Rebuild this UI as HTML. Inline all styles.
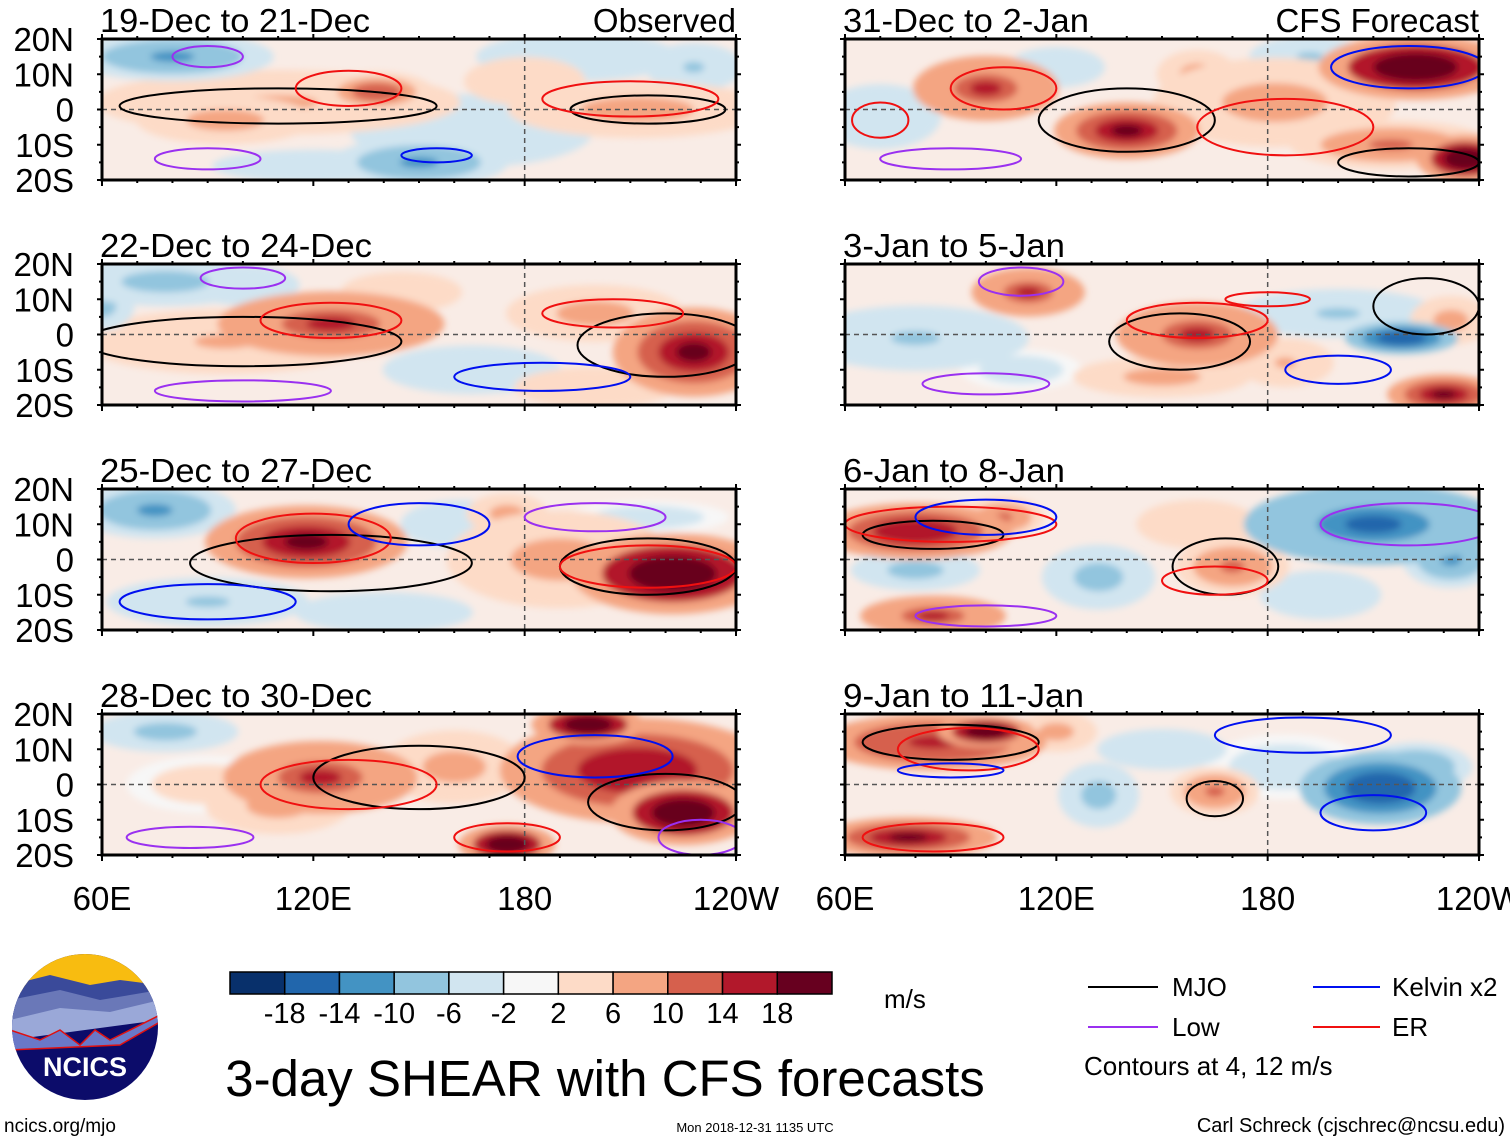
<!DOCTYPE html>
<html><head><meta charset="utf-8"><style>
body{margin:0;background:#fff;font-family:"Liberation Sans",sans-serif;}
svg text{font-family:"Liberation Sans",sans-serif;}
</style></head><body>
<svg id="c" width="1510" height="1142" viewBox="0 0 1510 1142" xmlns="http://www.w3.org/2000/svg">
<defs>
<filter id="bl" x="-50%" y="-50%" width="200%" height="200%"><feGaussianBlur stdDeviation="3.5"/></filter>
<clipPath id="lg"><circle cx="85" cy="1027" r="73"/></clipPath>
</defs>
<g id="panels"></g>
<g clip-path="url(#lg)">
<rect x="10" y="952" width="150" height="150" fill="#0c0c6a"/>
<rect x="10" y="952" width="150" height="40" fill="#f8bc10"/>
<path d="M10 985 L50 975 L90 985 L120 980 L160 985 L160 1020 L10 1030Z" fill="#3a4a9a"/>
<path d="M10 1000 L60 990 L100 1000 L160 990 L160 1020 L10 1030Z" fill="#6a78b8"/>
<path d="M10 1020 L60 1008 L110 1012 L160 1000 L160 1020 L10 1040Z" fill="#9aa8d8"/>
<path d="M10 1030 L40 1040 L60 1030 L80 1045 L95 1030 L110 1040 L120 1035 L160 1015 L160 1022 L120 1045 L10 1050Z" fill="#6a78c8" stroke="#e01010" stroke-width="1.5"/>
</g>
<text x="85" y="1076" text-anchor="middle" font-size="27" font-weight="bold" fill="#fff">NCICS</text>
<text x="4" y="1132" font-size="19">ncics.org/mjo</text>
<g id="cbar"></g>
<text x="884" y="1008" font-size="26">m/s</text>
<text x="605" y="1096" text-anchor="middle" font-size="51">3-day SHEAR with CFS forecasts</text>
<text x="755" y="1132" text-anchor="middle" font-size="13">Mon 2018-12-31 1135 UTC</text>
<text x="1505" y="1132" text-anchor="end" font-size="20">Carl Schreck (cjschrec@ncsu.edu)</text>
<g font-size="26">
<line x1="1088" y1="987" x2="1158" y2="987" stroke="#000" stroke-width="2"/><text x="1172" y="996">MJO</text>
<line x1="1088" y1="1027" x2="1158" y2="1027" stroke="#9a30f0" stroke-width="2"/><text x="1172" y="1036">Low</text>
<line x1="1313" y1="987" x2="1380" y2="987" stroke="#0010f0" stroke-width="2"/><text x="1392" y="996">Kelvin x2</text>
<line x1="1313" y1="1027" x2="1380" y2="1027" stroke="#f01010" stroke-width="2"/><text x="1392" y="1036">ER</text>
<text x="1084" y="1075" font-size="26">Contours at 4, 12 m/s</text>
</g>
</svg>
<script>
const panelTitles=["19-Dec to 21-Dec","22-Dec to 24-Dec","25-Dec to 27-Dec","28-Dec to 30-Dec","31-Dec to 2-Jan","3-Jan to 5-Jan","6-Jan to 8-Jan","9-Jan to 11-Jan"];
const latTicks=["20N","10N","0","10S","20S"];
const lonTicks=["60E","120E","180","120W"];
const binEdges=[-18,-14,-10,-6,-2,2,6,10,14,18];
const binColors=["#08306b","#2166ac","#4393c3","#92c5de","#d1e5f0","#f7f7f7","#fddbc7","#f4a582","#d6604d","#b2182b","#67001f"];
// blobs: [lon, lat, rlon, rlat, value]
const blobs0=[[80,15,25,6,-9],[110,2,45,8,5],[138,5,14,5,10],[95,-3,22,6,6],[212,0,32,7,7],[165,-6,30,9,-4],[150,-15,22,6,-8],[120,-16,25,4,-4],[195,15,25,6,-4],[180,8,15,6,4],[228,12,12,6,-5]];
const blobs1=[[78,15,25,6,-7],[125,3,28,8,11],[228,-5,20,11,15],[200,6,22,7,6],[95,-2,35,8,5],[165,-10,22,6,-4],[100,14,14,5,-5],[145,12,15,5,4],[60,8,8,6,-6],[200,-15,20,5,4]];
const blobs2=[[75,14,20,7,-9],[118,5,25,9,14],[106,8,12,5,10],[222,-4,25,10,18],[162,10,15,6,-4],[190,0,28,12,7],[90,-12,25,6,-5],[140,-15,22,5,-4],[175,13,10,5,6],[215,12,20,4,-3]];
const blobs3=[[212,4,34,13,13],[225,-8,18,8,18],[198,17,14,5,18],[175,-17,12,5,18],[122,2,24,9,11],[110,-6,18,7,7],[160,5,18,9,6],[78,15,18,5,-7],[90,0,20,7,3]];
const blobs4=[[222,12,24,8,18],[140,-6,18,7,14],[100,6,18,8,11],[182,2,30,11,7],[236,-14,12,6,18],[192,15,15,5,-5],[70,-2,15,8,-4],[120,12,12,5,-4],[215,-10,25,6,8],[160,10,10,6,6]];
const blobs5=[[160,0,20,8,11],[218,-1,14,4,-13],[200,6,25,6,-5],[230,-17,14,5,15],[80,-1,28,8,-5],[112,12,14,6,11],[232,4,10,6,7],[150,-12,22,5,6],[110,-10,15,5,-3],[185,-8,12,6,5]];
const blobs6=[[210,10,32,10,-11],[232,0,12,7,-9],[80,8,24,7,13],[170,-2,14,7,9],[132,-5,14,8,-7],[80,-3,16,5,-6],[85,-16,18,5,11],[195,-10,15,6,-4],[105,12,10,5,8],[160,10,15,6,4]];
const blobs7=[[212,-1,20,9,-13],[222,5,14,6,-9],[85,12,28,7,12],[100,15,12,4,17],[78,-15,22,5,14],[165,-2,11,6,9],[132,-3,10,8,-7],[150,10,16,5,-4],[185,5,20,8,-3],[120,15,10,5,6]];
const allBlobs=[blobs0,blobs1,blobs2,blobs3,blobs4,blobs5,blobs6,blobs7];
// contour ellipses: [lon, lat, rlon, rlat, type]
const cont0=[[110,1,45,5,"mjo"],[215,0,22,4,"mjo"],[130,6,15,5,"er"],[210,3,25,5,"er"],[90,-14,15,3,"low"],[155,-13,10,2,"kel"],[90,15,10,3,"low"]];
const cont1=[[100,-2,45,7,"mjo"],[220,-3,25,9,"mjo"],[125,4,20,5,"er"],[205,6,20,4,"er"],[100,16,12,3,"low"],[185,-12,25,4,"kel"],[100,-16,25,3,"low"]];
const cont2=[[125,-1,40,8,"mjo"],[215,-2,25,8,"mjo"],[120,6,22,7,"er"],[215,-2,25,6,"er"],[90,-12,25,5,"kel"],[150,10,20,6,"kel"],[200,12,20,4,"low"]];
const cont3=[[150,2,30,9,"mjo"],[220,-5,22,8,"mjo"],[130,0,25,7,"er"],[200,8,22,6,"kel"],[85,-15,18,3,"low"],[230,-15,12,5,"low"],[175,-15,15,4,"er"]];
const cont4=[[140,-3,25,9,"mjo"],[220,12,22,6,"kel"],[105,6,15,6,"er"],[185,-5,25,8,"er"],[90,-14,20,3,"low"],[70,-3,8,5,"er"],[220,-15,20,4,"mjo"]];
const cont5=[[155,-2,20,8,"mjo"],[225,8,15,8,"mjo"],[160,4,20,5,"er"],[180,10,12,2,"er"],[110,15,12,4,"low"],[100,-14,18,3,"low"],[200,-10,15,4,"kel"]];
const cont6=[[168,-2,15,8,"mjo"],[85,7,20,4,"mjo"],[90,10,30,5,"er"],[165,-6,15,4,"er"],[220,10,25,6,"low"],[100,-16,20,3,"low"],[100,12,20,5,"kel"]];
const cont7=[[165,-4,8,5,"mjo"],[90,12,25,5,"mjo"],[95,10,20,6,"er"],[85,-15,20,4,"er"],[190,14,25,5,"kel"],[210,-8,15,5,"kel"],[90,4,15,2,"kel"]];
const allConts=[cont0,cont1,cont2,cont3,cont4,cont5,cont6,cont7];

const NS="http://www.w3.org/2000/svg";
const root=document.getElementById('panels');
const W=634,H=141;
const lineColor={mjo:"#000",er:"#f01010",kel:"#0010f0",low:"#9a30f0"};
function colorFor(v){let i=0;while(i<binEdges.length&&v>binEdges[i])i++;return binColors[i];}
function mk(tag,attrs,parent){const e=document.createElementNS(NS,tag);for(const k in attrs)e.setAttribute(k,attrs[k]);parent.appendChild(e);return e;}
for(let p=0;p<8;p++){
  const col=p<4?0:1,row=p%4;
  const x0=col?845:102,y0=39+row*225;
  const xs=lon=>x0+(lon-60)/180*W;
  const ys=lat=>y0+(20-lat)/40*H;
  const g=mk('g',{},root);
  
  
  const cp=mk('clipPath',{id:'cp'+p},g);mk('rect',{x:x0,y:y0,width:W,height:H},cp);
  const inner=mk('g',{'clip-path':'url(#cp'+p+')'},g);
  mk('rect',{x:x0,y:y0,width:W,height:H,fill:"#f9ece6"},inner);
  const bg=mk('g',{filter:'url(#bl)'},inner);
  allBlobs[p].slice().sort((a,b)=>Math.abs(a[4])-Math.abs(b[4])).forEach(b=>{
    const rx=b[2]/180*W,ry=b[3]/40*H;
    const e=mk('ellipse',{cx:xs(b[0]),cy:ys(b[1]),rx:rx*1.15,ry:ry*1.15,fill:colorFor(b[4]*0.55)},bg);
    
    
    mk('ellipse',{cx:xs(b[0]),cy:ys(b[1]),rx:rx*0.8,ry:ry*0.8,fill:colorFor(b[4]*0.85)},bg);
    mk('ellipse',{cx:xs(b[0]),cy:ys(b[1]),rx:rx*0.5,ry:ry*0.5,fill:colorFor(b[4]*1.1)},bg);
    mk('ellipse',{cx:xs(b[0]),cy:ys(b[1]),rx:rx*0.25,ry:ry*0.25,fill:colorFor(b[4]*1.35)},bg);
  });
  mk('line',{x1:x0,y1:ys(0),x2:x0+W,y2:ys(0),stroke:"#555",'stroke-width':1.5,'stroke-dasharray':"5 4"},inner);
  mk('line',{x1:xs(180),y1:y0,x2:xs(180),y2:y0+H,stroke:"#555",'stroke-width':1.5,'stroke-dasharray':"5 4"},inner);
  allConts[p].forEach(c=>{
    const e=mk('ellipse',{cx:xs(c[0]),cy:ys(c[1]),rx:c[2]/180*W,ry:c[3]/40*H,fill:"none",stroke:lineColor[c[4]],'stroke-width':2},inner);
    
    
  });
  mk('rect',{x:x0,y:y0,width:W,height:H,fill:"none",stroke:"#000",'stroke-width':3},g);
  for(let lon=60;lon<=240;lon+=10){const maj=(lon%60==0);
    mk('line',{x1:xs(lon),y1:y0,x2:xs(lon),y2:y0-(maj?5:3),stroke:"#000",'stroke-width':2},g);
    mk('line',{x1:xs(lon),y1:y0+H,x2:xs(lon),y2:y0+H+(maj?6:3),stroke:"#000",'stroke-width':2},g);}
  for(let lat=-20;lat<=20;lat+=5){
    mk('line',{x1:x0,y1:ys(lat),x2:x0-(lat%10==0?5:3),y2:ys(lat),stroke:"#000",'stroke-width':2},g);
    mk('line',{x1:x0+W,y1:ys(lat),x2:x0+W+(lat%10==0?5:3),y2:ys(lat),stroke:"#000",'stroke-width':2},g);}
  const t=mk('text',{x:x0-2,y:y0-7,'font-size':33,textLength:(col?(p==4?246:[0,0,0,0,246,222,222,241][p]):[270,272,272,272][p]),lengthAdjust:'spacingAndGlyphs'},g);t.textContent=panelTitles[p];
  
  
  if(row==0){const s=mk('text',{x:x0+W,y:y0-7,'font-size':33,'text-anchor':'end'},g);s.textContent=col?"CFS Forecast":"Observed";}
  if(col==0){latTicks.forEach((l,i)=>{const tt=mk('text',{x:74,y:y0+i*H/4+12,'font-size':33,'text-anchor':'end'},g);tt.textContent=l;});}
  if(row==3){lonTicks.forEach((l,i)=>{const tt=mk('text',{x:x0+i*W/3,y:910,'font-size':33,'text-anchor':'middle'},g);tt.textContent=l;
    
    });}
}
const cb=document.getElementById('cbar');
const bw=602/11;
binColors.forEach((c,i)=>{const r=mk('rect',{x:230+i*bw,y:972,width:bw,height:22,fill:c,stroke:"#000",'stroke-width':1.5},cb);
  
  });
binEdges.forEach((v,i)=>{const t=mk('text',{x:230+(i+1)*bw,y:1023,'font-size':29,'text-anchor':'middle'},cb);t.textContent=v;});
</script>
</body></html>
